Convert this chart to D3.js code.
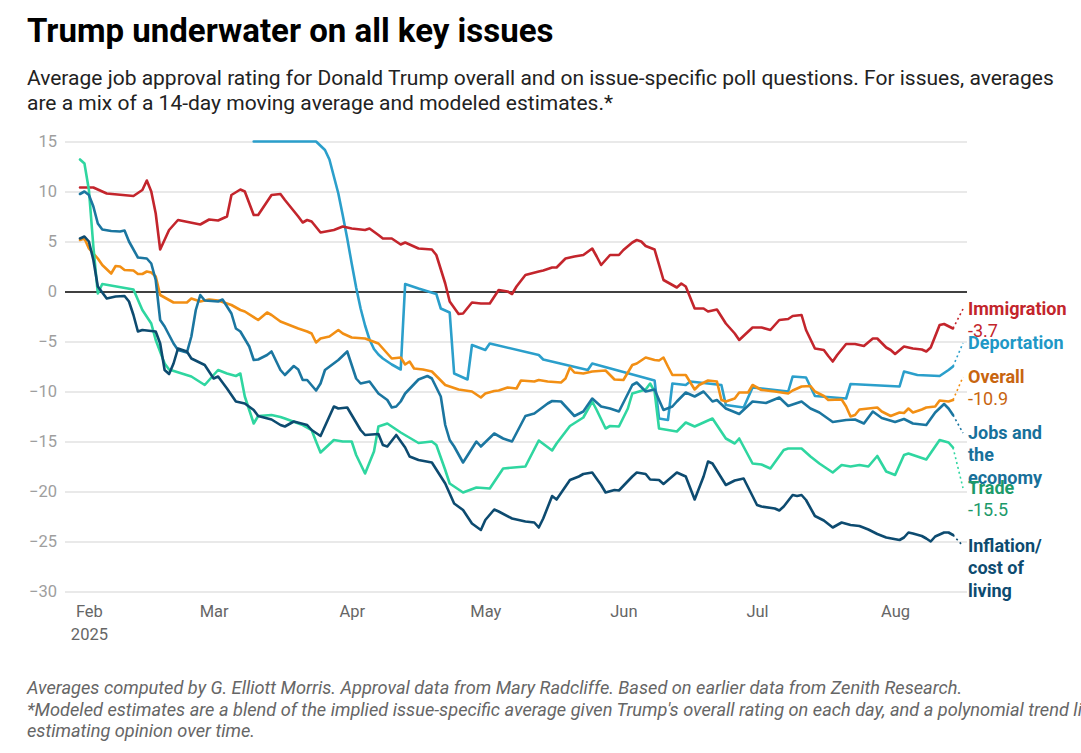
<!DOCTYPE html>
<html>
<head>
<meta charset="utf-8">
<script src="https://cdn.jsdelivr.net/npm/d3@7"></script>
<style>
  body { margin: 0; background: #fff; }
  svg { display: block; font-family: Roboto, "Noto Sans", sans-serif; }
</style>
</head>
<body>
<div id="chart"></div>
<script>
// [days after 1 Feb 2025, net approval]
const immigration = [[-2,10.4],[1,10.4],[4,9.8],[10,9.55],[12,10.15],[13,11.1],[14,10.0],[15,7.8],[16,4.2],[18,6.15],[20,7.15],[25,6.7],[27,7.2],[29,7.1],[31,7.5],[32,9.65],[34,10.2],[35,10.0],[37,7.65],[38,7.65],[41,9.65],[43,9.75],[44,9.15],[47,7.5],[48,6.9],[49,7.15],[50,7.0],[52,5.9],[55,6.15],[57,6.5],[59,6.3],[62,6.15],[63,6.3],[65,5.65],[66,5.3],[68,5.3],[70,4.7],[71,4.9],[74,4.3],[77,4.2],[78,3.65],[80,0.8],[81,-1.0],[83,-2.25],[84,-2.2],[86,-1.1],[88,-1.2],[90,-1.2],[92,0.15],[94,0.0],[95,-0.25],[96,0.5],[98,1.65],[101,2.0],[102,2.1],[104,2.4],[105,2.4],[107,3.3],[109,3.5],[111,3.65],[113,4.3],[114,3.5],[115,2.65],[117,3.65],[119,3.65],[120,4.15],[122,4.9],[123,5.15],[124,5.0],[125,4.55],[127,4.2],[129,1.15],[131,0.65],[132,0.4],[133,0.8],[134,0.5],[136,-1.7],[138,-1.7],[139,-2.0],[141,-1.8],[143,-3.2],[145,-4.2],[146,-4.85],[149,-3.6],[151,-3.6],[153,-3.85],[155,-2.85],[157,-2.75],[158,-2.45],[160,-2.35],[161,-3.85],[163,-5.7],[165,-5.85],[166,-6.45],[167,-7.0],[168,-6.35],[170,-5.25],[172,-5.25],[174,-5.45],[176,-4.7],[177,-4.7],[179,-5.6],[180,-5.85],[181,-6.25],[183,-5.5],[185,-5.7],[187,-5.8],[188,-6.0],[189,-5.6],[191,-3.35],[192,-3.25],[194,-3.7]];

const deportation = [[37,15],[51,15],[53,14.15],[54,13.2],[55,11.5],[56,9.8],[57,7.6],[58,5.3],[59,2.8],[60,0.4],[61,-1.7],[62,-3.4],[63,-4.8],[64,-5.75],[65,-6.3],[66,-6.7],[68,-7.3],[70,-7.8],[71,0.75],[74,0.3],[78,-0.25],[79,-1.7],[81,-2.1],[82,-8.2],[85,-8.8],[86,-5.35],[89,-5.85],[90,-5.2],[101,-6.35],[102,-6.8],[112,-7.85],[113,-7.2],[127,-8.9],[128,-12.7],[130,-12.85],[131,-9.2],[134,-9.35],[135,-9.0],[142,-9.35],[143,-11.35],[147,-11.6],[149,-9.6],[157,-10.0],[158,-8.5],[161,-8.6],[163,-10.45],[170,-10.7],[171,-9.25],[182,-9.5],[183,-8.0],[186,-8.35],[191,-8.45],[193,-7.85],[194,-7.5]];

const overall = [[-2,5.15],[-1,5.3],[0,4.3],[2,3.3],[3,2.65],[5,1.8],[6,2.55],[7,2.5],[8,2.15],[10,2.1],[11,1.75],[12,1.75],[13,2.0],[14,1.9],[15,1.5],[16,-0.35],[18,-0.85],[19,-1.1],[22,-1.1],[23,-0.7],[25,-1.0],[27,-0.8],[29,-0.9],[31,-1.2],[32,-1.35],[34,-1.85],[35,-2.0],[38,-2.85],[40,-2.1],[41,-2.35],[43,-3.0],[47,-3.7],[49,-4.0],[50,-4.2],[51,-5.1],[52,-4.7],[54,-4.5],[56,-3.85],[57,-4.2],[59,-4.6],[62,-4.7],[65,-5.2],[67,-6.2],[68,-6.7],[70,-6.6],[71,-7.3],[72,-7.0],[73,-7.7],[75,-7.8],[77,-8.0],[80,-9.35],[83,-9.8],[86,-10.0],[88,-10.6],[89,-10.2],[91,-9.95],[92,-9.9],[94,-9.6],[96,-9.7],[97,-8.9],[100,-9.0],[101,-8.85],[103,-9.0],[106,-9.1],[107,-8.7],[108,-7.6],[109,-8.1],[111,-8.2],[113,-8.0],[116,-7.9],[118,-8.8],[120,-8.85],[122,-7.35],[123,-7.2],[125,-6.6],[127,-6.85],[128,-6.9],[129,-6.6],[130,-7.5],[131,-8.35],[134,-8.35],[136,-9.8],[137,-9.35],[139,-8.9],[141,-9.0],[142,-10.85],[143,-11.0],[145,-10.7],[146,-10.1],[148,-10.1],[149,-9.35],[151,-9.85],[154,-10.0],[157,-10.2],[158,-9.9],[160,-9.5],[162,-9.45],[163,-10.0],[165,-10.45],[166,-10.85],[169,-10.8],[170,-11.5],[171,-12.5],[172,-12.35],[173,-11.8],[177,-11.6],[178,-12.0],[180,-12.45],[182,-12.1],[183,-12.15],[184,-11.7],[185,-12.1],[187,-11.8],[188,-11.6],[190,-11.5],[191,-10.9],[193,-11.0],[194,-10.85]];

const jobs = [[-2,9.75],[-1,10.0],[0,9.65],[1,8.5],[2,6.8],[3,6.2],[5,6.05],[7,6.0],[8,6.1],[9,5.0],[11,3.4],[13,3.3],[14,2.8],[15,1.15],[16,-2.85],[17,-3.5],[19,-5.2],[20,-5.85],[22,-6.1],[23,-4.5],[24,-1.85],[25,-0.35],[26,-0.9],[29,-1.0],[30,-0.8],[32,-2.2],[33,-3.7],[34,-4.0],[36,-5.5],[37,-6.85],[38,-6.8],[40,-6.35],[41,-6.0],[43,-7.85],[44,-8.35],[46,-7.45],[47,-7.8],[48,-8.85],[49,-8.85],[51,-9.9],[52,-9.2],[53,-7.85],[56,-6.85],[58,-6.0],[60,-8.7],[61,-9.2],[63,-9.0],[65,-10.2],[67,-10.85],[68,-11.6],[69,-11.5],[70,-11.0],[71,-10.2],[74,-8.8],[76,-8.45],[77,-8.7],[79,-10.5],[80,-13.35],[81,-14.85],[82,-15.5],[84,-17.1],[86,-15.7],[87,-15.0],[88,-15.5],[91,-14.2],[93,-14.7],[95,-15.0],[98,-12.45],[100,-12.2],[103,-11.2],[104,-10.95],[106,-11.0],[109,-12.45],[111,-12.0],[113,-10.7],[115,-11.5],[117,-11.7],[119,-12.0],[122,-9.35],[123,-9.1],[125,-10.0],[127,-9.8],[128,-10.85],[129,-11.85],[131,-11.5],[132,-11.0],[134,-10.1],[136,-10.5],[138,-10.0],[140,-11.0],[141,-10.85],[143,-11.7],[146,-12.25],[149,-11.0],[152,-11.15],[155,-10.6],[157,-11.45],[160,-11.0],[162,-11.7],[164,-12.1],[167,-13.05],[170,-12.85],[172,-12.8],[174,-13.2],[176,-12.0],[178,-12.65],[181,-13.05],[183,-12.75],[185,-13.2],[188,-13.35],[190,-12.1],[192,-11.25],[193,-11.7],[194,-12.35]];

const trade = [[-2,13.2],[-1,12.8],[0,10.15],[1,4.5],[2,-0.2],[3,0.75],[10,0.2],[12,-1.85],[14,-3.2],[15,-4.85],[17,-7.2],[18,-7.8],[23,-8.5],[26,-9.35],[29,-7.85],[31,-8.2],[33,-8.45],[34,-8.2],[35,-10.5],[37,-13.2],[38,-12.45],[41,-12.35],[43,-12.55],[44,-12.7],[48,-13.35],[50,-13.85],[51,-15.0],[52,-16.1],[55,-14.85],[57,-15.0],[59,-15.0],[60,-16.35],[62,-18.2],[64,-16.0],[65,-13.5],[67,-13.2],[70,-14.1],[74,-15.15],[77,-15.0],[78,-15.35],[80,-17.85],[81,-19.2],[84,-20.1],[87,-19.6],[90,-19.7],[93,-17.7],[98,-17.5],[101,-14.9],[104,-15.9],[105,-15.2],[108,-13.45],[111,-12.6],[113,-11.0],[114,-11.85],[116,-13.7],[117,-13.45],[119,-13.5],[121,-11.7],[122,-10.2],[125,-9.8],[126,-9.2],[127,-10.0],[128,-13.7],[130,-13.85],[132,-14.0],[134,-13.1],[136,-13.5],[138,-13.1],[140,-12.7],[143,-14.7],[145,-15.2],[146,-14.7],[149,-17.2],[151,-17.3],[153,-17.7],[156,-15.85],[157,-15.7],[160,-15.7],[162,-16.5],[164,-17.2],[167,-18.1],[169,-17.35],[171,-17.5],[173,-17.35],[175,-17.5],[177,-16.45],[179,-18.0],[181,-18.35],[183,-16.35],[184,-16.2],[188,-16.8],[190,-15.5],[191,-14.85],[193,-15.1],[194,-15.6]];

const inflation = [[-2,5.3],[-1,5.5],[0,5.0],[1,3.15],[2,0.5],[4,-0.7],[6,-0.5],[8,-0.45],[9,-1.0],[10,-2.35],[11,-4.0],[12,-3.85],[15,-4.0],[16,-5.2],[17,-7.85],[18,-8.25],[19,-7.2],[20,-5.7],[22,-6.0],[23,-6.7],[26,-7.35],[28,-8.7],[29,-8.5],[31,-9.7],[33,-11.0],[35,-11.2],[37,-11.85],[38,-12.45],[41,-12.8],[43,-13.35],[44,-13.5],[46,-13.0],[49,-13.35],[50,-13.85],[52,-14.45],[55,-11.5],[56,-11.7],[58,-11.6],[59,-12.35],[61,-13.85],[62,-14.35],[65,-14.25],[66,-15.35],[67,-15.5],[69,-14.35],[71,-15.6],[72,-16.5],[74,-16.85],[77,-17.1],[80,-19.2],[82,-21.2],[84,-21.85],[86,-23.2],[88,-23.85],[89,-22.85],[91,-21.8],[92,-22.0],[95,-22.7],[98,-23.0],[100,-23.1],[101,-23.6],[102,-22.7],[104,-20.45],[105,-20.8],[108,-18.85],[110,-18.5],[111,-18.25],[113,-18.1],[115,-19.35],[116,-20.1],[118,-19.85],[119,-19.9],[122,-18.5],[123,-18.1],[125,-18.25],[126,-18.8],[128,-18.85],[129,-19.25],[132,-18.1],[134,-18.5],[136,-20.8],[138,-18.5],[139,-17.0],[140,-17.2],[143,-19.35],[145,-18.9],[147,-18.7],[150,-21.35],[151,-21.5],[154,-21.7],[155,-21.9],[156,-21.5],[158,-20.35],[159,-20.45],[160,-20.35],[161,-20.85],[163,-22.45],[165,-22.9],[166,-23.25],[167,-23.6],[169,-23.1],[171,-23.35],[173,-23.45],[175,-23.8],[177,-24.25],[179,-24.6],[182,-24.85],[183,-24.6],[184,-24.1],[185,-24.2],[187,-24.45],[188,-24.7],[189,-25.0],[190,-24.5],[192,-24.1],[193,-24.1],[194,-24.35]];

const seriesNames = ["Immigration", "Deportation", "Overall", "Jobs and the economy", "Trade", "Inflation/ cost of living"];
const seriesValues = [immigration, deportation, overall, jobs, trade, inflation];
const shownValues = ["-3.7", null, "-10.9", null, "-15.5", null];
const yTicks = [15, 10, 5, 0, -5, -10, -15, -20, -25, -30];
const monthTicks = ["2025-02-01", "2025-03-01", "2025-04-01", "2025-05-01", "2025-06-01", "2025-07-01", "2025-08-01"];

const title = "Trump underwater on all key issues";
const subtitle = ["Average job approval rating for Donald Trump overall and on issue-specific poll questions. For issues, averages",
  "are a mix of a 14-day moving average and modeled estimates.*"];
const notes = ["Averages computed by G. Elliott Morris. Approval data from Mary Radcliffe. Based on earlier data from Zenith Research.",
  "*Modeled estimates are a blend of the implied issue-specific average given Trump's overall rating on each day, and a polynomial trend line for",
  "estimating opinion over time."];

// styling / layout
const lineColors = ["#c3252c", "#2b9fcb", "#f28f14", "#1b76a0", "#2fd6a0", "#0d4b70"];
const labelColors = ["#c3252c", "#1f98c6", "#c8650f", "#17709a", "#1c9a6a", "#0d4b70"];
const labelLines = [["Immigration"], ["Deportation"], ["Overall"], ["Jobs and", "the", "economy"], ["Trade"], ["Inflation/", "cost of", "living"]];
const labelY = [309, 343, 377, 433, 488, 546];
const drawOrder = [1, 2, 0, 4, 3, 5];

const w = 1081, h = 753;
const gridLeft = 65, gridRight = 967;

const svg = d3.select("#chart")
  .append("svg")
  .attr("width", w)
  .attr("height", h);

const start = new Date(2025, 1, 1);
const toDate = d => d3.timeDay.offset(start, d);

const x = d3.scaleTime()
  .domain([toDate(-2), toDate(194)])
  .range([80, 953]);

const y = d3.scaleLinear()
  .domain([-30, 15])
  .range([591.5, 141.5]);

// titles
svg.append("text")
  .attr("x", 27).attr("y", 42)
  .attr("font-size", 33).attr("font-weight", 700).attr("fill", "#000")
  .text(title);

svg.append("g").selectAll("text")
  .data(subtitle)
  .join("text")
  .attr("x", 27).attr("y", (d, i) => 85 + i * 25)
  .attr("font-size", 21).attr("fill", "#222")
  .text(d => d);

// y grid + labels
const yAxis = svg.append("g")
  .attr("transform", `translate(${gridLeft},0)`)
  .call(d3.axisLeft(y).tickValues(yTicks).tickSize(-(gridRight - gridLeft)).tickPadding(8));
yAxis.select(".domain").remove();
yAxis.selectAll(".tick line")
  .attr("stroke", d => d === 0 ? "#000" : "#e2e2e2")
  .attr("stroke-width", d => d === 0 ? 1.6 : 1.5);
yAxis.selectAll(".tick text")
  .attr("fill", "#9e9e9e")
  .attr("font-size", 16.5)
  .attr("font-family", "Roboto, sans-serif");

// x axis labels
const xAxis = svg.append("g")
  .attr("transform", "translate(0,599)")
  .call(d3.axisBottom(x)
    .tickValues(monthTicks.map(d => d3.timeParse("%Y-%m-%d")(d)))
    .tickSize(0)
    .tickPadding(0)
    .tickFormat(d3.timeFormat("%b")));
xAxis.select(".domain").remove();
xAxis.selectAll(".tick text")
  .attr("fill", "#666")
  .attr("font-size", 16.5)
  .attr("font-family", "Roboto, sans-serif")
  .attr("dy", "1.1em");
xAxis.select(".tick text")
  .append("tspan")
  .attr("x", 0).attr("dy", "1.4em")
  .text("2025");

// lines
const line = d3.line()
  .x(d => x(toDate(d[0])))
  .y(d => y(d[1]));

svg.append("g").selectAll("path")
  .data(drawOrder)
  .join("path")
  .attr("fill", "none")
  .attr("stroke", i => lineColors[i])
  .attr("stroke-width", 2.6)
  .attr("stroke-linejoin", "round")
  .attr("stroke-linecap", "round")
  .attr("d", i => line(seriesValues[i]));

// end labels
const labels = svg.append("g");
seriesValues.forEach((vals, i) => {
  const last = vals[vals.length - 1];
  labels.append("line")
    .attr("x1", x(toDate(last[0]))).attr("y1", y(last[1]))
    .attr("x2", 963).attr("y2", labelY[i])
    .attr("stroke", lineColors[i])
    .attr("stroke-width", 1.6)
    .attr("stroke-dasharray", "2,3");

  const t = labels.append("text")
    .attr("x", 968)
    .attr("y", labelY[i] + 5.5)
    .attr("fill", labelColors[i])
    .attr("font-size", 18);
  labelLines[i].forEach((s, k) => {
    t.append("tspan").attr("x", 968).attr("dy", k ? 22.5 : 0)
      .attr("font-weight", 700).text(s);
  });
  if (shownValues[i]) {
    t.append("tspan").attr("x", 968).attr("dy", 22.5).text(shownValues[i]);
  }
});

// notes
svg.append("g").selectAll("text")
  .data(notes)
  .join("text")
  .attr("x", 27).attr("y", (d, i) => 694 + i * 21.5)
  .attr("font-size", 18.2).attr("font-style", "italic").attr("fill", "#666")
  .text(d => d);
</script>
</body>
</html>
